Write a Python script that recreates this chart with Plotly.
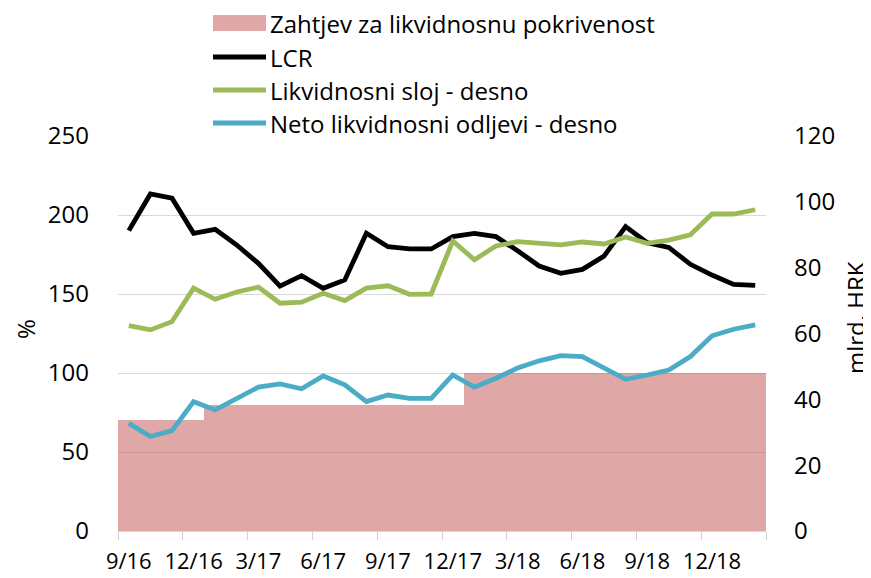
import plotly.graph_objects as go

months = ["9/16","10/16","11/16","12/16","1/17","2/17","3/17","4/17","5/17","6/17",
          "7/17","8/17","9/17","10/17","11/17","12/17","1/18","2/18","3/18","4/18",
          "5/18","6/18","7/18","8/18","9/18","10/18","11/18","12/18","1/19","2/19"]
tick_labels = ["9/16","12/16","3/17","6/17","9/17","12/17","3/18","6/18","9/18","12/18"]

zahtjev = [70]*4 + [80]*12 + [100]*14
lcr = [190.1, 213.3, 210.6, 188.4, 190.9, 181.0, 169.4, 155.0, 161.6, 153.6,
       158.9, 188.4, 179.9, 178.5, 178.5, 186.3, 188.4, 186.3, 177.4, 167.7,
       163.1, 165.6, 174.0, 192.6, 182.5, 179.5, 168.8, 162.0, 156.1, 155.5]
sloj = [62.4, 61.1, 63.6, 73.8, 70.4, 72.6, 74.1, 69.2, 69.5, 72.2,
        70.0, 73.8, 74.5, 71.9, 72.0, 88.1, 82.4, 86.6, 87.9, 87.4,
        86.9, 87.8, 87.2, 89.3, 87.4, 88.4, 90.0, 96.3, 96.3, 97.6]
odljevi = [32.7, 28.7, 30.5, 39.3, 36.8, 40.3, 43.7, 44.7, 43.2, 47.1,
           44.4, 39.3, 41.3, 40.3, 40.3, 47.4, 43.7, 46.4, 49.5, 51.7,
           53.3, 53.0, 49.5, 46.1, 47.4, 48.9, 53.0, 59.3, 61.3, 62.6]

names = ["Zahtjev za likvidnosnu pokrivenost", "LCR",
         "Likvidnosni sloj - desno", "Neto likvidnosni odljevi - desno"]

BAR = "rgba(192,80,77,0.5)"
BLACK = "#000000"
GREEN = "#9BBB59"
BLUE = "#4BACC6"
FONT = "Open Sans"
FS = 24

x = list(range(len(months)))

fig = go.Figure()
fig.add_trace(go.Bar(x=x, y=zahtjev, width=1.0, marker=dict(color=BAR, line=dict(width=0)),
                     name=names[0], hovertext=months))
fig.add_trace(go.Scatter(x=x, y=lcr, mode="lines", line=dict(color=BLACK, width=4.8),
                         name=names[1], hovertext=months))
fig.add_trace(go.Scatter(x=x, y=sloj, mode="lines", line=dict(color=GREEN, width=4.8),
                         name=names[2], yaxis="y2", hovertext=months))
fig.add_trace(go.Scatter(x=x, y=odljevi, mode="lines", line=dict(color=BLUE, width=4.8),
                         name=names[3], yaxis="y2", hovertext=months))

# page body has an 8px margin: work in page pixels and convert
OFF = 8
W, H = 871 - OFF, 578 - OFF
L, R, T, B = 118 - OFF, 766 - OFF, 136 - OFF, 531 - OFF

def px(p):
    return (p - OFF - L) / (R - L)

def py(p):
    return (B - (p - OFF)) / (B - T)

fig.update_layout(
    width=W, height=H,
    margin=dict(l=L, r=W - R, t=T, b=H - B, pad=0, autoexpand=False),
    paper_bgcolor="white", plot_bgcolor="white",
    showlegend=False, bargap=0,
    font=dict(family=FONT, size=FS, color="#000000"),
    xaxis=dict(range=[-0.5, len(months) - 0.5], tickmode="array", automargin=False,
               tickvals=[months.index(t) for t in tick_labels], ticktext=tick_labels,
               tickangle=0, tickfont=dict(size=22),
               ticks="", showgrid=False, showline=True, linecolor="#D9D9D9", linewidth=1,
               zeroline=False, ticklabelstandoff=11,
               minor=dict(tick0=-0.5, dtick=3, ticks="outside", ticklen=8,
                          tickcolor="#D0D0D0", tickwidth=1, showgrid=False)),
    yaxis=dict(range=[0, 250], dtick=50, showgrid=True, gridcolor="#D9D9D9", gridwidth=1,
               zeroline=False, showline=False, ticks="", ticklabelstandoff=28,
               automargin=False),
    yaxis2=dict(range=[0, 120], dtick=20, overlaying="y", side="right", showgrid=False,
                zeroline=False, showline=False, ticks="", ticklabelstandoff=27,
                automargin=False),
)

# axis titles
fig.add_annotation(text="%", xref="paper", yref="paper", x=px(25), y=py(329),
                   textangle=-90, showarrow=False, xanchor="center", yanchor="middle")
fig.add_annotation(text="mlrd. HRK", xref="paper", yref="paper", x=px(855), y=py(318),
                   textangle=-90, showarrow=False, xanchor="center", yanchor="middle")

# custom legend
rows = [23, 57, 90, 123]
sx0, sx1 = 213, 266
fig.add_shape(type="rect", xref="paper", yref="paper", x0=px(sx0), x1=px(sx1),
              y0=py(rows[0] - 8), y1=py(rows[0] + 8), fillcolor=BAR, line=dict(width=0))
for r, c in zip(rows[1:], [BLACK, GREEN, BLUE]):
    fig.add_shape(type="line", xref="paper", yref="paper", x0=px(sx0), x1=px(sx1),
                  y0=py(r), y1=py(r), line=dict(color=c, width=4.8))
for r, n in zip(rows, names):
    fig.add_annotation(text=n, xref="paper", yref="paper", x=px(268), y=py(r),
                       showarrow=False, xanchor="left", yanchor="middle")

fig.write_html("out.html")
